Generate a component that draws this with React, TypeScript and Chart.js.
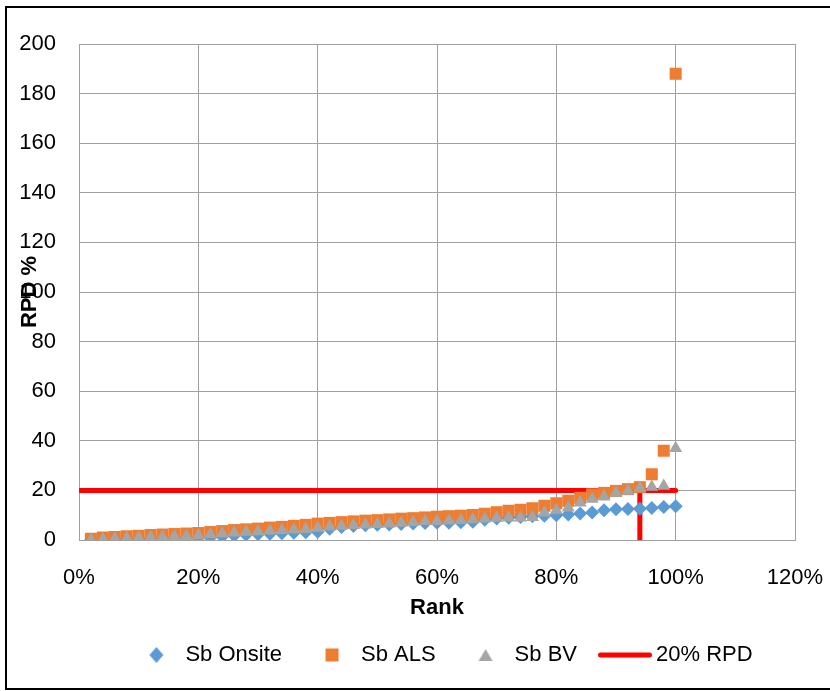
import React, { useEffect, useRef } from 'react';
import { Chart, registerables } from 'chart.js';

Chart.register(...registerables);

// Rank (%) of each result
const rankPct = [
  2, 4, 6, 8, 10, 12, 14, 16, 18, 20,
  22, 24, 26, 28, 30, 32, 34, 36, 38, 40,
  42, 44, 46, 48, 50, 52, 54, 56, 58, 60,
  62, 64, 66, 68, 70, 72, 74, 76, 78, 80,
  82, 84, 86, 88, 90, 92, 94, 96, 98, 100,
];

const sbOnsite = [
  0, 0, 0.2, 0.3, 0.4, 0.5, 0.6, 0.7, 0.8, 0.9,
  1.0, 1.4, 1.8, 2.1, 2.3, 2.5, 2.7, 2.9, 3.1, 3.3,
  4.5, 5.2, 5.6, 5.9, 6.1, 6.3, 6.5, 6.7, 6.9, 7.0,
  7.0, 7.2, 7.4, 8.2, 8.7, 9.0, 9.3, 9.6, 9.8, 10.0,
  10.3, 10.7, 11.1, 12.0, 12.4, 12.5, 12.6, 12.9, 13.3, 13.6,
];

const sbALS = [
  0.5, 1, 1.2, 1.5, 1.7, 2, 2.2, 2.4, 2.6, 2.8,
  3.2, 3.6, 4, 4.3, 4.6, 5, 5.3, 5.7, 6.1, 6.6,
  6.9, 7.2, 7.5, 7.8, 8, 8.3, 8.6, 8.8, 9.1, 9.4,
  9.6, 9.8, 10.1, 10.6, 11.2, 11.8, 12.2, 12.8, 13.8, 14.8,
  15.8, 17, 18.4, 19, 19.8, 20.5, 21.3, 26.5, 36, 188,
];

const sbBV = [
  0, 0.3, 0.5, 0.7, 0.9, 1.1, 1.2, 1.4, 1.5, 1.8,
  2.2, 2.6, 2.9, 3.2, 3.4, 3.7, 3.9, 4.1, 4.3, 4.8,
  5.3, 5.6, 5.9, 6.1, 6.4, 6.6, 6.9, 7.2, 7.6, 7.6,
  7.8, 8, 8.3, 8.6, 8.9, 9, 9, 9.2, 11, 12,
  13, 15, 16.5, 17.4, 19, 19.8, 21, 21.4, 21.8, 37,
];

// 20% RPD reference line (horizontal at 20, with a drop at 94%)
const rpdLineX = [0, 94, 94, 94, 100];
const rpdLineY = [20, 20, 0, 20, 20];

const seriesLabels = ['Sb Onsite', 'Sb ALS', 'Sb BV', '20% RPD'];

const C_ON = '#5B9BD5';
const C_ALS = '#ED7D31';
const C_BV = '#A5A5A5';
const C_RED = '#FF0000';
const GRID = '#A0A0A0';
const TXT = '#000000';
const FONT = "'Liberation Sans', Arial, sans-serif";

export default function App() {
  const ref = useRef<HTMLCanvasElement>(null);

  useEffect(() => {
    const canvas = ref.current;
    if (!canvas) return;

    const mk = (w: number, h: number, draw: (g: CanvasRenderingContext2D) => void) => {
      const c = document.createElement('canvas');
      c.width = w;
      c.height = h;
      const g = c.getContext('2d')!;
      draw(g);
      return c;
    };

    const legendImgs = [
      mk(40, 18, (g) => {
        g.fillStyle = C_ON;
        g.beginPath();
        g.moveTo(13, 1);
        g.lineTo(20, 9);
        g.lineTo(13, 17);
        g.lineTo(6, 9);
        g.closePath();
        g.fill();
      }),
      mk(40, 18, (g) => {
        g.fillStyle = C_ALS;
        g.fillRect(6.5, 2.5, 13, 13);
      }),
      mk(40, 18, (g) => {
        g.fillStyle = C_BV;
        g.beginPath();
        g.moveTo(13, 3);
        g.lineTo(20, 15);
        g.lineTo(6, 15);
        g.closePath();
        g.fill();
      }),
      mk(72, 8, (g) => {
        g.strokeStyle = C_RED;
        g.lineWidth = 5;
        g.lineCap = 'round';
        g.beginPath();
        g.moveTo(2.5, 4);
        g.lineTo(51.5, 4);
        g.stroke();
      }),
    ];

    const defaultGen = (Chart as any).defaults.plugins.legend.labels.generateLabels;

    const legendShift = {
      id: 'legendShift',
      afterLayout(chart: any) {
        const l = chart.legend;
        if (!l) return;
        l.left += 55;
        l.right += 55;
        l.top -= 21;
        l.bottom -= 21;
      },
    };

    const pts = (ys: number[]) => rankPct.map((x, i) => ({ x, y: ys[i] }));

    const chart = new Chart(canvas, {
      type: 'scatter',
      data: {
        datasets: [
          {
            label: seriesLabels[0],
            data: pts(sbOnsite),
            pointStyle: 'rectRot',
            pointRadius: 7,
            pointHoverRadius: 7,
            backgroundColor: C_ON,
            borderColor: C_ON,
            borderWidth: 0,
            order: 3,
          },
          {
            label: seriesLabels[1],
            data: pts(sbALS),
            pointStyle: 'rect',
            pointRadius: 8.5,
            pointHoverRadius: 8.5,
            backgroundColor: C_ALS,
            borderColor: C_ALS,
            borderWidth: 0,
            order: 2,
          },
          {
            label: seriesLabels[2],
            data: pts(sbBV),
            pointStyle: 'triangle',
            pointRadius: 7.5,
            pointHoverRadius: 7.5,
            backgroundColor: C_BV,
            borderColor: C_BV,
            borderWidth: 0,
            order: 1,
          },
          {
            label: seriesLabels[3],
            data: rpdLineX.map((x, i) => ({ x, y: rpdLineY[i] })),
            showLine: true,
            pointRadius: 0,
            pointHoverRadius: 0,
            borderColor: C_RED,
            backgroundColor: C_RED,
            borderWidth: 5,
            borderCapStyle: 'round',
            borderJoinStyle: 'round',
            order: 4,
          } as any,
        ],
      },
      options: {
        responsive: false,
        animation: false,
        devicePixelRatio: 1,
        layout: { padding: { left: 0, right: 35, top: 44, bottom: -6 } },
        scales: {
          x: {
            type: 'linear',
            min: 0,
            max: 120,
            ticks: {
              stepSize: 20,
              callback: (v: any) => v + '%',
              font: { family: FONT, size: 22 },
              color: TXT,
              padding: 25,
              maxRotation: 0,
            },
            grid: { color: GRID, drawTicks: false, lineWidth: 1 },
            border: { color: GRID },
            title: {
              display: true,
              text: 'Rank',
              font: { family: FONT, size: 22, weight: 'bold', lineHeight: 1.0 },
              color: TXT,
              padding: { top: 0, bottom: 0 },
            },
            afterFit: (s: any) => {
              s.height = 79;
              s.paddingLeft = 0;
              s.paddingRight = 0;
            },
          },
          y: {
            min: 0,
            max: 200,
            ticks: {
              stepSize: 20,
              font: { family: FONT, size: 22 },
              color: TXT,
              padding: 23,
            },
            grid: { color: GRID, drawTicks: false, lineWidth: 1 },
            border: { color: GRID },
            title: {
              display: true,
              text: 'RPD %',
              font: { family: FONT, size: 22, weight: 'bold' },
              color: TXT,
              padding: { top: 17, bottom: 0 },
            },
            afterFit: (s: any) => {
              s.width = 79;
            },
          },
        },
        plugins: {
          tooltip: { enabled: false },
          legend: {
            position: 'bottom',
            labels: {
              usePointStyle: true,
              boxWidth: 22,
              boxHeight: 10,
              padding: 46,
              color: TXT,
              font: { family: FONT, size: 22 },
              generateLabels: (ch: any) =>
                defaultGen(ch).map((item: any) => ({
                  ...item,
                  pointStyle: legendImgs[item.datasetIndex],
                  rotation: 0,
                })),
              sort: (a: any, b: any) => a.datasetIndex - b.datasetIndex,
            },
          },
        },
      } as any,
      plugins: [legendShift],
    });

    return () => chart.destroy();
  }, []);

  return (
    <div
      style={{
        position: 'absolute',
        left: 0,
        top: 0,
        width: 830,
        height: 691,
        overflow: 'hidden',
        background: '#fff',
      }}
    >
      <canvas ref={ref} width={830} height={691} style={{ display: 'block', width: 830, height: 691 }} />
      <div
        style={{
          position: 'absolute',
          left: 5,
          top: 6,
          width: 825,
          height: 684,
          boxSizing: 'border-box',
          borderLeft: '2px solid #000',
          borderTop: '2px solid #000',
          borderBottom: '2px solid #000',
          pointerEvents: 'none',
        }}
      />
    </div>
  );
}
